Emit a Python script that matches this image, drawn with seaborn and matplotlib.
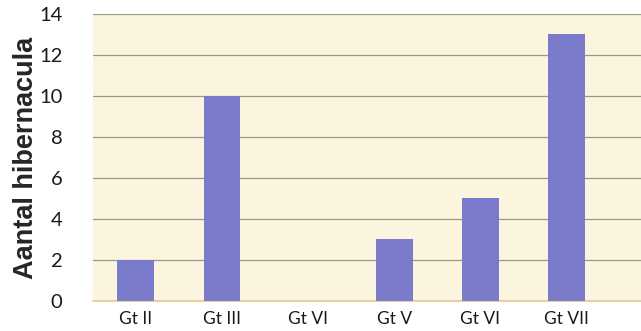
import numpy as np
import pandas as pd
import matplotlib
matplotlib.use("Agg")
import matplotlib.pyplot as plt
import seaborn as sns

categories = ["Gt II", "Gt III", "Gt VI", "Gt V", "Gt VI", "Gt VII"]
values = [2, 10, 0, 3, 5, 13]
yticks = [0, 2, 4, 6, 8, 10, 12, 14]

df = pd.DataFrame({"pos": np.arange(len(categories)), "count": values})

sns.set_theme(style="white")
plt.rcParams["font.family"] = ["Lato", "DejaVu Sans"]

fig = plt.figure(figsize=(6.41, 3.31), dpi=100)
ax = fig.add_axes([0.145, 0.0906, 0.855, 0.8674])
ax.set_facecolor("#FBF4DE")

sns.barplot(data=df, x="pos", y="count", color="#7B7BCC", saturation=1,
            width=0.43, linewidth=0, ax=ax, zorder=3)

ax.set_xlim(-0.5, 5.87)
ax.set_ylim(0, 14)
ax.set_yticks(yticks)
ax.set_yticklabels([str(v) for v in yticks], fontsize=14.5, color="#1a1a1a")
ax.yaxis.grid(True, color="#9C9786", linewidth=0.9)
ax.set_axisbelow(True)

ax.set_xticks(np.arange(len(categories)))
ax.set_xticklabels(categories, fontsize=12.5, color="#1a1a1a")
ax.set_xticks(np.arange(-0.5, len(categories), 1.0), minor=True)
ax.tick_params(axis="x", which="major", length=0, pad=7)
ax.tick_params(axis="x", which="minor", length=5, width=0.9, color="#C8B48A",
               direction="out")
ax.tick_params(axis="y", length=0, pad=22)

for side in ["top", "right", "left"]:
    ax.spines[side].set_visible(False)
ax.spines["bottom"].set_color("#E6C88C")
ax.spines["bottom"].set_linewidth(1.2)

ax.set_xlabel("")
ax.set_ylabel("Aantal hibernacula", fontsize=19.5, fontweight="bold",
              family=["Liberation Sans", "DejaVu Sans"], labelpad=0)

fig.savefig("out.png", dpi=100, facecolor="white")
